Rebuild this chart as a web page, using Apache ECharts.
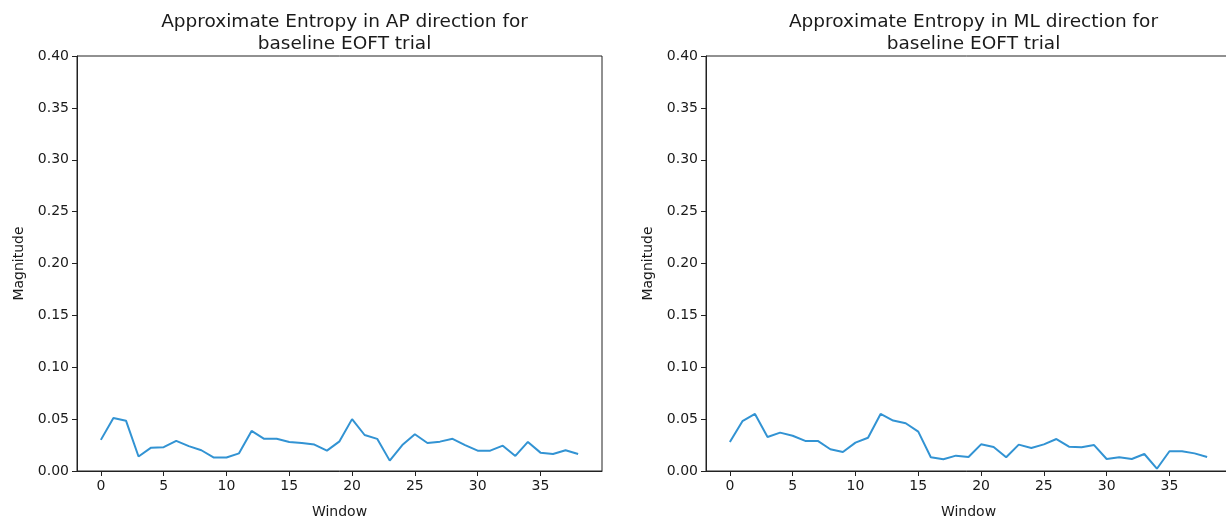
<!DOCTYPE html>
<html>
<head>
<meta charset="utf-8">
<script src="https://cdn.jsdelivr.net/npm/echarts@6/dist/echarts.min.js"></script>
<style>
  html, body { margin: 0; padding: 0; background: #fff; }
  #chart { width: 1226px; height: 520px; }
</style>
</head>
<body>
<div id="chart"></div>
<script>
// Window indices 0..38
const windows = [];
for (let i = 0; i <= 38; i++) windows.push(i);

// Approximate entropy per window, anterior-posterior direction
const apEntropy = [
  0.030, 0.051, 0.0485, 0.014, 0.0225, 0.023, 0.029, 0.024, 0.020, 0.013,
  0.013, 0.017, 0.0386, 0.031, 0.031, 0.028, 0.027, 0.0255, 0.0196, 0.0286,
  0.050, 0.0347, 0.031, 0.010, 0.025, 0.0354, 0.027, 0.0283, 0.031, 0.025,
  0.0196, 0.0196, 0.0244, 0.0145, 0.028, 0.0177, 0.0164, 0.020, 0.0164
];

// Approximate entropy per window, medio-lateral direction
const mlEntropy = [
  0.028, 0.048, 0.055, 0.0328, 0.037, 0.034, 0.029, 0.029, 0.021, 0.0183,
  0.0273, 0.032, 0.055, 0.0486, 0.046, 0.0379, 0.0132, 0.0113, 0.0148, 0.0135,
  0.0257, 0.0231, 0.0132, 0.0254, 0.0222, 0.0257, 0.0308, 0.0234, 0.0228, 0.025,
  0.0116, 0.0132, 0.0116, 0.0164, 0.0022, 0.019, 0.019, 0.017, 0.0135
];

const xTicks = [0, 5, 10, 15, 20, 25, 30, 35];
const titles = [
  'Approximate Entropy in AP direction for\nbaseline EOFT trial',
  'Approximate Entropy in ML direction for\nbaseline EOFT trial'
];

const FONT = 'DejaVu Sans';
const TEXT = '#1a1a1a';
const LINE_COLOR = '#3293d3';

const grids = [
  { left: 77, top: 56, width: 525, height: 415 },
  { left: 706, top: 56, width: 525, height: 415 }
];

function pairs(values) {
  return values.map((v, i) => [windows[i], v]);
}

const chart = echarts.init(document.getElementById('chart'), null, { renderer: 'canvas' });

const option = {
  backgroundColor: '#ffffff',
  animation: false,
  title: titles.map((t, k) => ({
    text: t,
    left: grids[k].left + grids[k].width / 2,
    top: 6,
    textAlign: 'center',
    textStyle: {
      fontFamily: FONT, fontSize: 18.5, fontWeight: 'normal',
      color: TEXT, lineHeight: 22
    }
  })),
  grid: grids.map(g => Object.assign({
    show: true, borderColor: '#222', borderWidth: 1, backgroundColor: 'transparent',
    containLabel: false,
    outerBoundsMode: 'none'
  }, g)),
  xAxis: grids.map((g, k) => ({
    type: 'value',
    gridIndex: k,
    min: -1.9,
    max: 39.9,
    name: 'Window',
    nameLocation: 'middle',
    nameGap: 34,
    nameTextStyle: { fontFamily: FONT, fontSize: 14, color: TEXT },
    axisLine: { show: true, onZero: false, lineStyle: { color: '#222', width: 1 } },
    axisTick: { show: true, inside: false, length: 5, customValues: xTicks, lineStyle: { color: '#222', width: 1 } },
    axisLabel: { show: true, customValues: xTicks, fontFamily: FONT, fontSize: 14, color: TEXT, margin: 8 },
    splitLine: { show: false }
  })),
  yAxis: grids.map((g, k) => ({
    type: 'value',
    gridIndex: k,
    min: 0,
    max: 0.4,
    interval: 0.05,
    name: 'Magnitude',
    nameLocation: 'middle',
    nameGap: 51,
    nameTextStyle: { fontFamily: FONT, fontSize: 14, color: TEXT },
    axisLine: { show: true, onZero: false, lineStyle: { color: '#222', width: 1 } },
    axisTick: { show: true, inside: false, length: 5, lineStyle: { color: '#222', width: 1 } },
    axisLabel: {
      fontFamily: FONT, fontSize: 14, color: TEXT, margin: 8,
      formatter: v => v.toFixed(2)
    },
    splitLine: { show: false }
  })),
  series: [apEntropy, mlEntropy].map((vals, k) => ({
    type: 'line',
    xAxisIndex: k,
    yAxisIndex: k,
    data: pairs(vals),
    showSymbol: false,
    symbol: 'none',
    lineStyle: { color: LINE_COLOR, width: 2 },
    itemStyle: { color: LINE_COLOR },
    z: 3
  }))
};

chart.setOption(option);
</script>
</body>
</html>
